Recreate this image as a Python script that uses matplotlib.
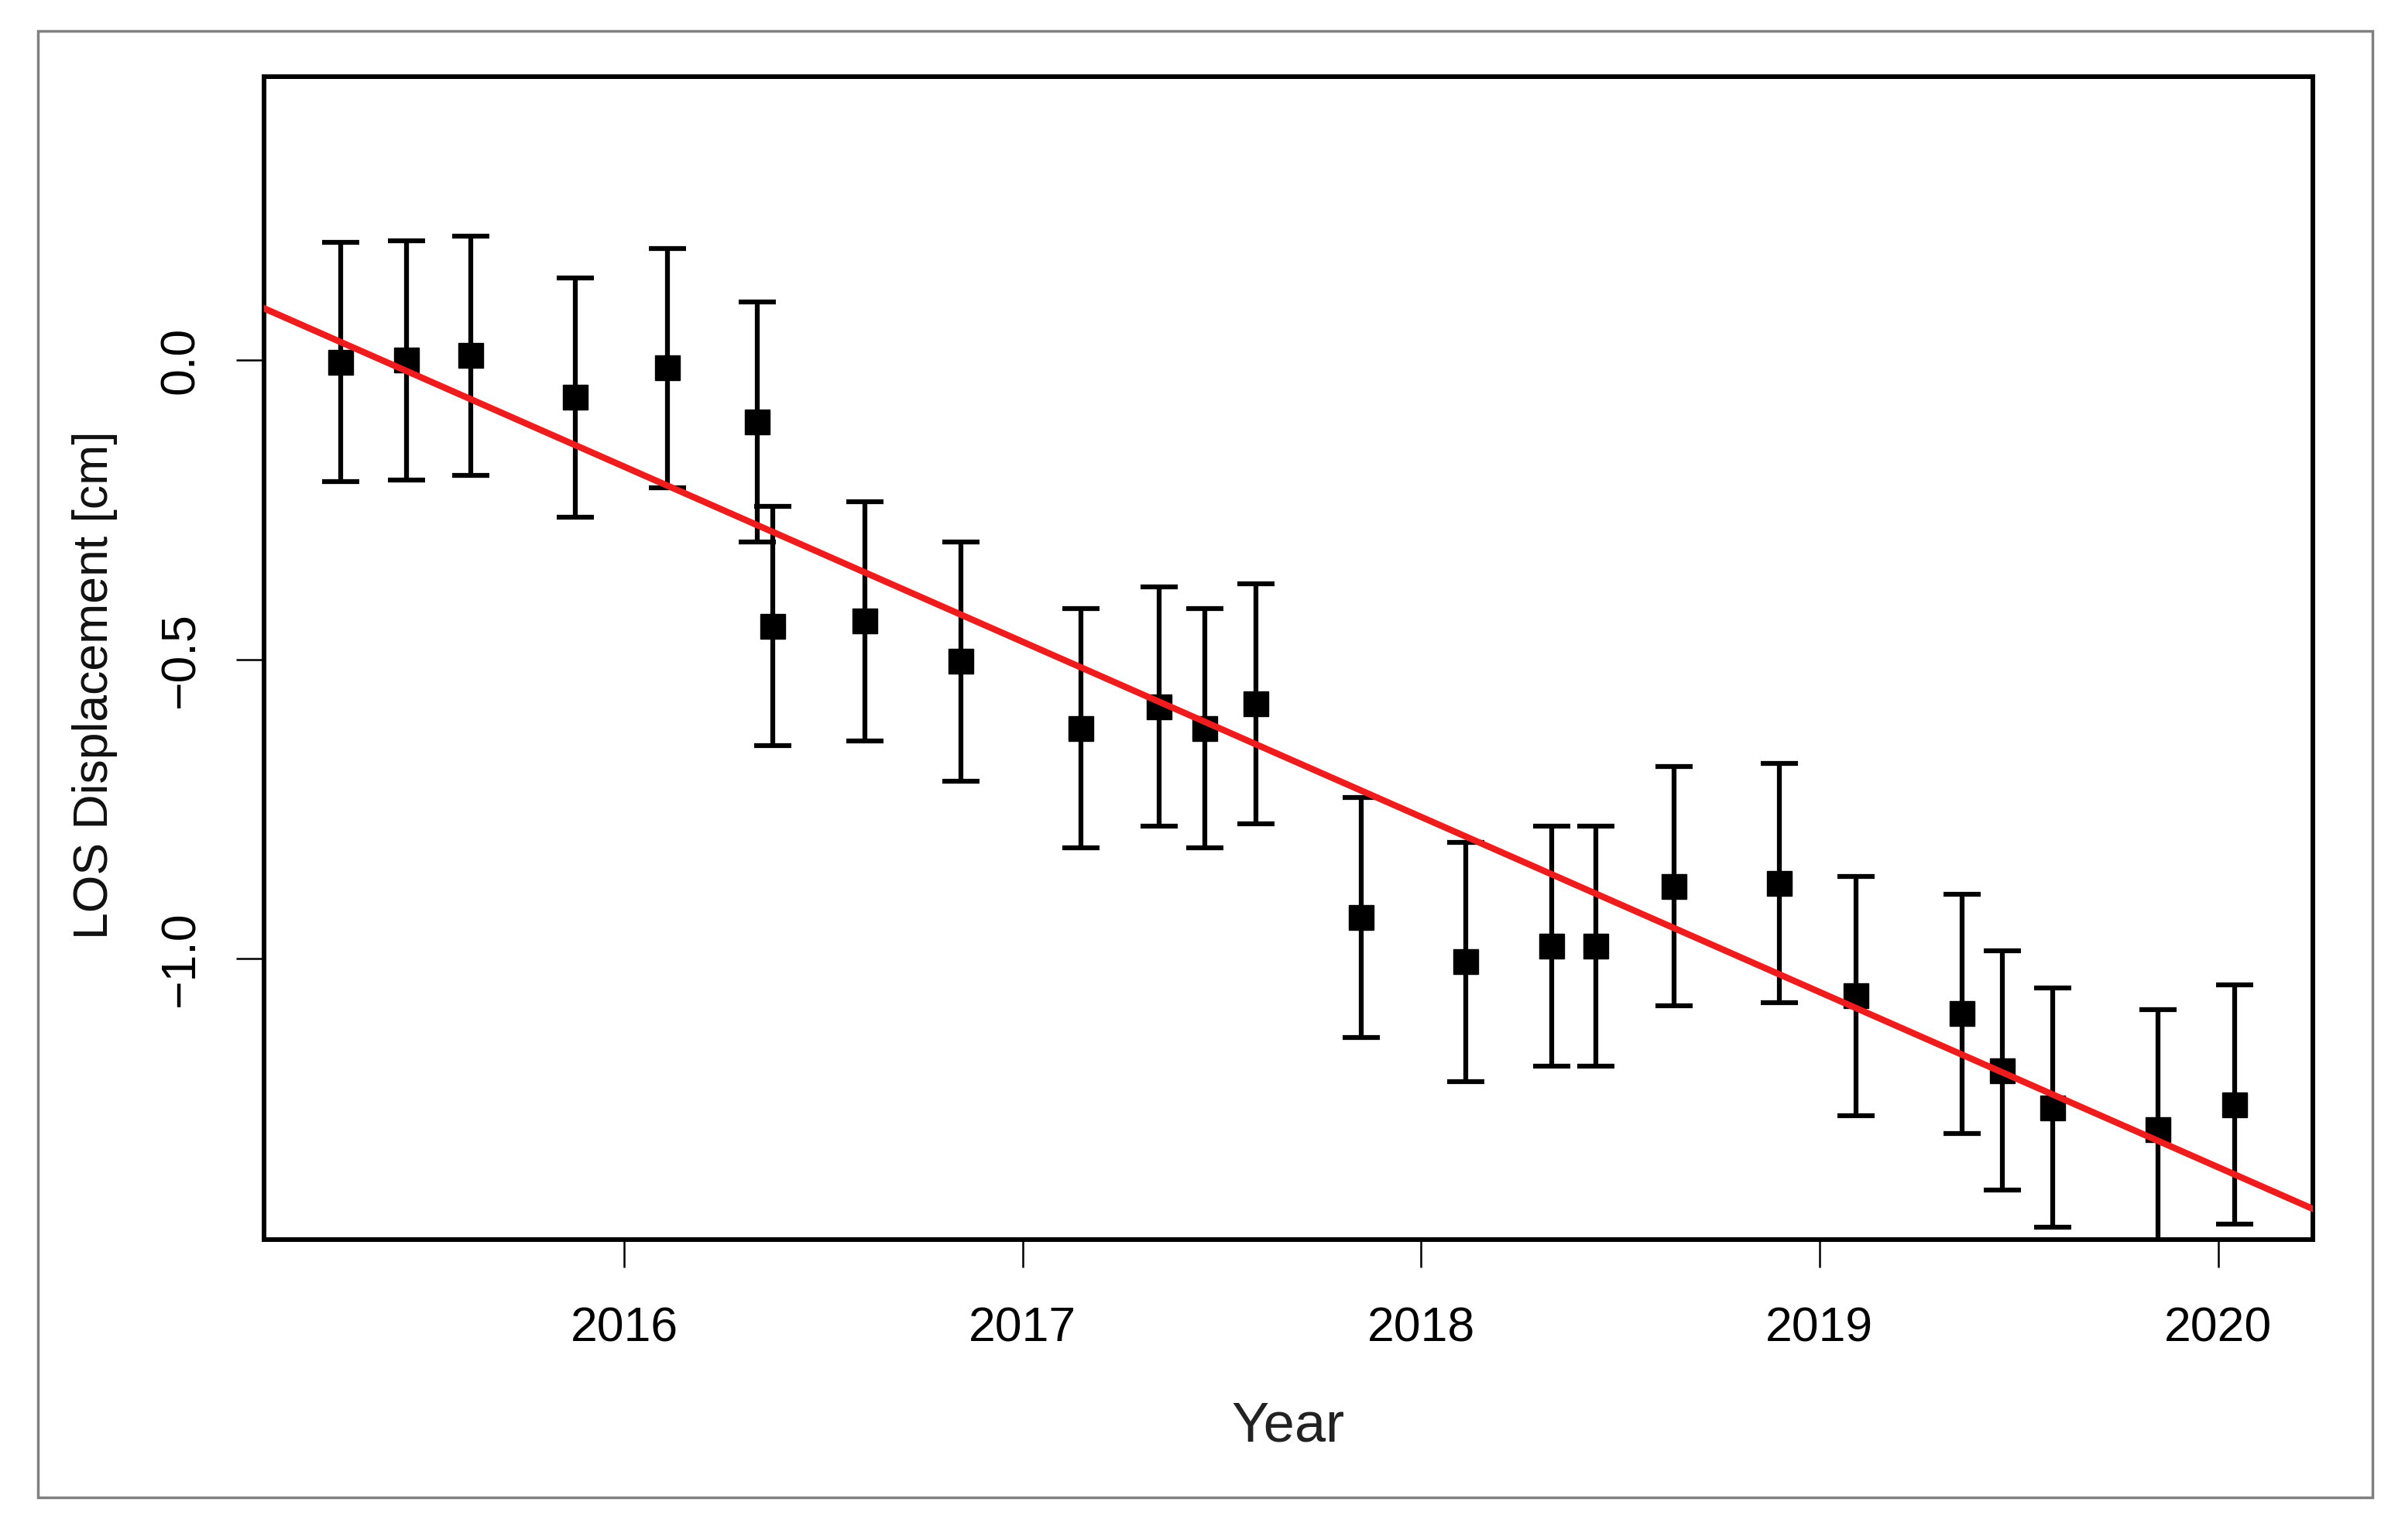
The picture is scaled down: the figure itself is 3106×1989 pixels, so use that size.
import matplotlib.pyplot as plt
from matplotlib.patches import Rectangle
import numpy as np

plt.rcParams['font.family'] = ['Liberation Sans', 'DejaVu Sans']

# acquisition dates (decimal years) and LOS displacement (cm)
years = [2015.288, 2015.454, 2015.615, 2015.877, 2016.108, 2016.335, 2016.373,
         2016.604, 2016.846, 2017.146, 2017.342, 2017.458, 2017.585, 2017.850,
         2018.112, 2018.327, 2018.438, 2018.635, 2018.900, 2019.092, 2019.358,
         2019.458, 2019.585, 2019.850, 2020.042]
disp = [-0.003, 0.000, 0.008, -0.062, -0.013, -0.103, -0.444,
        -0.436, -0.503, -0.615, -0.579, -0.615, -0.574, -0.931,
        -1.005, -0.979, -0.979, -0.879, -0.874, -1.062, -1.092,
        -1.187, -1.249, -1.285, -1.244]
err = [0.2] * len(years)

# linear trend (read at the two edges of the plot)
trend_x = [2015.096, 2020.238]
trend_y = [0.087, -1.418]

xticks = [2016, 2017, 2018, 2019, 2020]
yticks = [0.0, -0.5, -1.0]
ytick_labels = ['0.0', '\u22120.5', '\u22121.0']

fig = plt.figure(figsize=(31.06, 19.89), dpi=100)
ax = fig.add_axes([0.1097, 0.1952, 0.852, 0.7550])

# gray outer frame
fig.patches.append(Rectangle((0.0159, 0.0279), 0.9707, 0.9521, transform=fig.transFigure,
                             fill=False, edgecolor='#808080', linewidth=2.5))

ax.plot(trend_x, trend_y, color='#ee1c1c', lw=6, zorder=3)
ax.errorbar(years, disp, yerr=err, fmt='s', color='black', ms=23,
            elinewidth=4.5, capsize=17, capthick=4.5, zorder=2)

ax.set_xlim(2015.096, 2020.238)
ax.set_ylim(-1.469, 0.474)

ax.set_xticks(xticks)
ax.set_xticklabels([str(t) for t in xticks])
ax.set_yticks(yticks)
ax.set_yticklabels(ytick_labels, rotation=90, va='center')

ax.tick_params(axis='both', direction='out', length=26, width=1.8, labelsize=45, color='black')
ax.tick_params(axis='x', pad=36)
ax.tick_params(axis='y', pad=30)

for s in ax.spines.values():
    s.set_linewidth(4.3)
    s.set_color('black')

ax.set_xlabel('Year', fontsize=52, color='#222222', labelpad=46)
fig.text(0.0395, 0.555, 'LOS Displacement [cm]', rotation=90, fontsize=45,
         ha='center', va='center', color='#111111')

fig.savefig('out.png', dpi=100, facecolor='white')
